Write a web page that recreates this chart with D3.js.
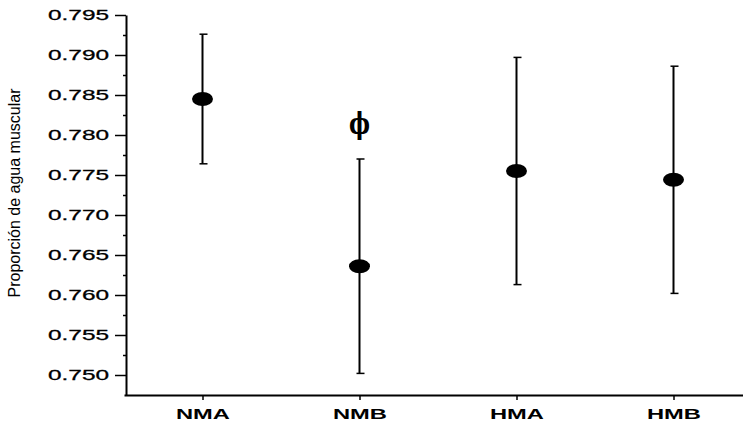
<!DOCTYPE html>
<html>
<head>
<meta charset="utf-8">
<script src="https://cdn.jsdelivr.net/npm/d3@7"></script>
<style>
  html, body { margin: 0; padding: 0; background: #fff; }
  svg { display: block; }
</style>
</head>
<body>
<svg id="chart" width="743" height="424"></svg>
<script>
// Groups and their means with error half-widths
const categories = ["NMA", "NMB", "HMA", "HMB"];
const means = [0.7845, 0.7636, 0.7755, 0.7744];
const errors = [0.0081, 0.0134, 0.0142, 0.0142];

// Extra annotation symbol drawn at a group
const noteCategories = ["NMB"];
const noteValues = [0.7815];
const noteSymbols = ["ϕ"];

const yTicks = [0.750, 0.755, 0.760, 0.765, 0.770, 0.775, 0.780, 0.785, 0.790, 0.795];
const yMinorTicks = [0.7525, 0.7575, 0.7625, 0.7675, 0.7725, 0.7775, 0.7825, 0.7875, 0.7925];

const svg = d3.select("#chart");

const x = d3.scalePoint().domain(categories).range([124, 752]).padding(0.5);
const y = d3.scaleLinear().domain([0.7475, 0.795]).range([395, 15]);

// Y axis: minor ticks first, then major ticks with labels
svg.append("g")
  .attr("transform", "translate(126,0)")
  .call(d3.axisLeft(y).tickValues(yMinorTicks).tickSize(3).tickSizeOuter(0).tickFormat(""))
  .call(g => g.select(".domain").remove())
  .selectAll("line").attr("stroke", "#000").attr("stroke-width", 1.5);

const yAxis = svg.append("g")
  .attr("transform", "translate(126,0)")
  .call(d3.axisLeft(y).tickValues(yTicks).tickSize(11).tickSizeOuter(0).tickPadding(6).tickFormat(d3.format(".3f")));
yAxis.select(".domain").attr("stroke", "#000").attr("stroke-width", 2);
yAxis.selectAll(".tick line").attr("stroke", "#000").attr("stroke-width", 1.5);
yAxis.selectAll(".tick text")
  .attr("font-family", "Liberation Sans, Arial, sans-serif")
  .attr("font-size", 15)
  .attr("fill", "#000")
  .attr("stroke", "#000")
  .attr("stroke-width", 0.3)
  .attr("textLength", 61)
  .attr("lengthAdjust", "spacingAndGlyphs");

// X axis
const xAxis = svg.append("g")
  .attr("transform", "translate(0,395)")
  .call(d3.axisBottom(x).tickSize(5).tickSizeOuter(0).tickPadding(8));
xAxis.select(".domain").attr("stroke", "#000").attr("stroke-width", 2);
xAxis.selectAll(".tick line").attr("stroke", "#000").attr("stroke-width", 1.5);
xAxis.selectAll(".tick text")
  .attr("font-family", "Liberation Sans, Arial, sans-serif")
  .attr("font-size", 15)
  .attr("font-weight", "bold")
  .attr("fill", "#000")
  .attr("textLength", 54)
  .attr("lengthAdjust", "spacingAndGlyphs");

// Y axis title
svg.append("text")
  .attr("transform", "translate(20,193) rotate(-90)")
  .attr("text-anchor", "middle")
  .attr("font-family", "Liberation Sans, Arial, sans-serif")
  .attr("font-size", 16)
  .attr("fill", "#000")
  .text("Proporción de agua muscular");

// Error bars
const data = categories.map((c, i) => ({ cat: c, mean: means[i], err: errors[i] }));
const bars = svg.append("g").selectAll("g").data(data).join("g");
bars.append("line")
  .attr("x1", d => x(d.cat)).attr("x2", d => x(d.cat))
  .attr("y1", d => y(d.mean + d.err)).attr("y2", d => y(d.mean - d.err))
  .attr("stroke", "#000").attr("stroke-width", 2);
bars.selectAll(".cap")
  .data(d => [{ cat: d.cat, v: d.mean + d.err }, { cat: d.cat, v: d.mean - d.err }])
  .join("line")
  .attr("class", "cap")
  .attr("x1", d => x(d.cat) - 3).attr("x2", d => x(d.cat) + 5)
  .attr("y1", d => y(d.v)).attr("y2", d => y(d.v))
  .attr("stroke", "#000").attr("stroke-width", 1.5);

// Mean markers
bars.append("ellipse")
  .attr("cx", d => x(d.cat))
  .attr("cy", d => y(d.mean))
  .attr("rx", 10.5).attr("ry", 7)
  .attr("fill", "#000");

// Annotation symbols
svg.append("g").selectAll("text")
  .data(noteCategories.map((c, i) => ({ cat: c, v: noteValues[i], s: noteSymbols[i] })))
  .join("text")
  .attr("x", d => x(d.cat))
  .attr("y", d => y(d.v))
  .attr("text-anchor", "middle")
  .attr("dominant-baseline", "central")
  .attr("font-family", "DejaVu Serif, serif")
  .attr("font-weight", "bold")
  .attr("font-size", 30)
  .attr("fill", "#000")
  .attr("textLength", 21)
  .attr("lengthAdjust", "spacingAndGlyphs")
  .text(d => d.s);
</script>
</body>
</html>
